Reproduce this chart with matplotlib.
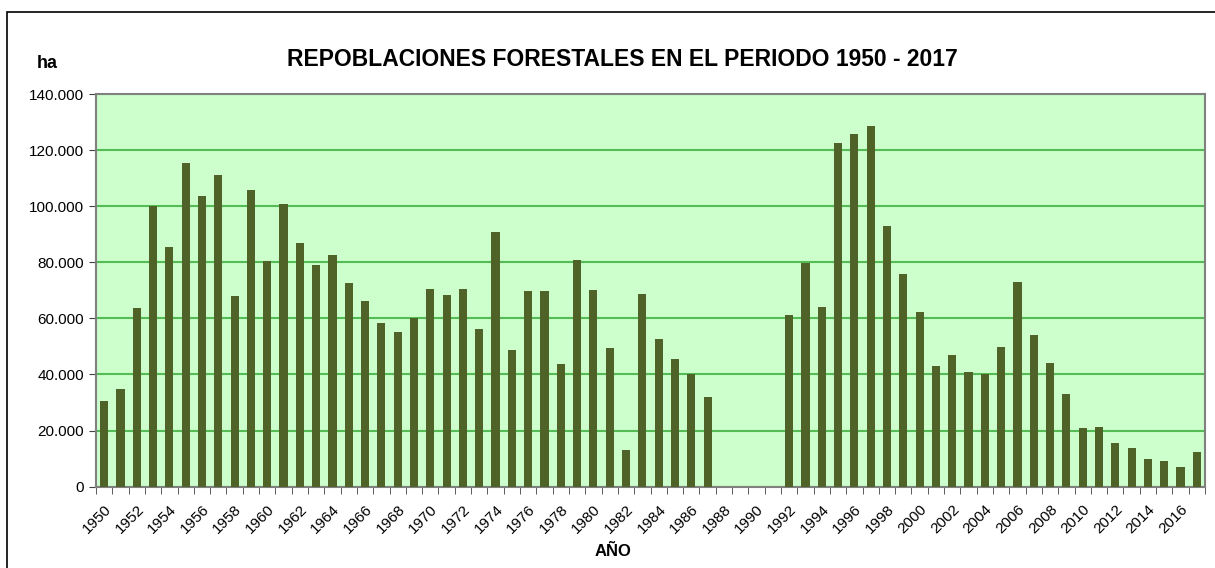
import matplotlib.pyplot as plt
from matplotlib.patches import Rectangle
from matplotlib.ticker import FuncFormatter

# Datos: superficie repoblada (ha) por año
anios = list(range(1950, 2018))
hectareas = [
    30500, 34800, 63800, 100000, 85300, 115500, 103500, 111000, 67900, 105700,
    80600, 100700, 86800, 79200, 82500, 72600, 66200, 58500, 55300, 60300,
    70500, 68300, 70500, 56100, 90800, 48700, 69800, 69800, 43600, 80700,
    70100, 49400, 13200, 68700, 52800, 45500, 40200, 32100, 0, 0,
    0, 0, 61100, 79600, 63900, 122400, 125600, 128600, 92900, 75900,
    62200, 42900, 46800, 40800, 40200, 49800, 73000, 54100, 44000, 33000,
    20800, 21400, 15700, 13800, 9900, 9200, 6900, 12400,
]
etiquetas = [str(a) for a in anios[::2]]

plt.rcParams['font.family'] = ['Liberation Sans', 'DejaVu Sans']

fig = plt.figure(figsize=(12.15, 5.68), dpi=100)
ax = fig.add_axes([96 / 1215, 1 - 486.7 / 568, 1109 / 1215, 392.7 / 568])

x = list(range(len(anios)))
ax.set_facecolor('#CCFFCC')
ax.bar(x, hectareas, width=0.5, color='#4F6228', linewidth=0, zorder=3)

ax.set_xlim(-0.5, len(anios) - 0.5)
ax.set_ylim(0, 140000)
ax.set_yticks(range(0, 140001, 20000))
ax.yaxis.set_major_formatter(FuncFormatter(lambda v, p: f'{int(v):,}'.replace(',', '.')))
ax.grid(axis='y', color='#55BB55', linewidth=1.5, zorder=1)

ax.set_xticks(x[::2])
ax.set_xticklabels(etiquetas, rotation=45, ha='right', rotation_mode='anchor', fontsize=11)
ax.set_xticks([i - 0.5 for i in range(len(anios) + 1)], minor=True)
ax.tick_params(axis='x', which='major', length=0, pad=11)
ax.tick_params(axis='x', which='minor', length=5, color='#404040')
ax.tick_params(axis='y', labelsize=11, length=5, color='#404040')

for s in ax.spines.values():
    s.set_color('#808080')
    s.set_linewidth(1.5)

fig.text(622 / 1215, 1 - 60 / 568, 'REPOBLACIONES FORESTALES EN EL PERIODO 1950 - 2017',
         ha='center', va='center', fontsize=16.5, fontweight='bold')
fig.text(47 / 1215, 1 - 63 / 568, 'ha', ha='center', va='center', fontsize=13, fontweight='bold')
fig.text(613 / 1215, 1 - 552 / 568, 'AÑO', ha='center', va='center', fontsize=12, fontweight='bold')

fig.patches.append(Rectangle((7 / 1215, -0.05), 1.2, 1 - 12 / 568 + 0.05, transform=fig.transFigure,
                             fill=False, edgecolor='black', linewidth=1.2))

fig.savefig('out.png', dpi=100)
